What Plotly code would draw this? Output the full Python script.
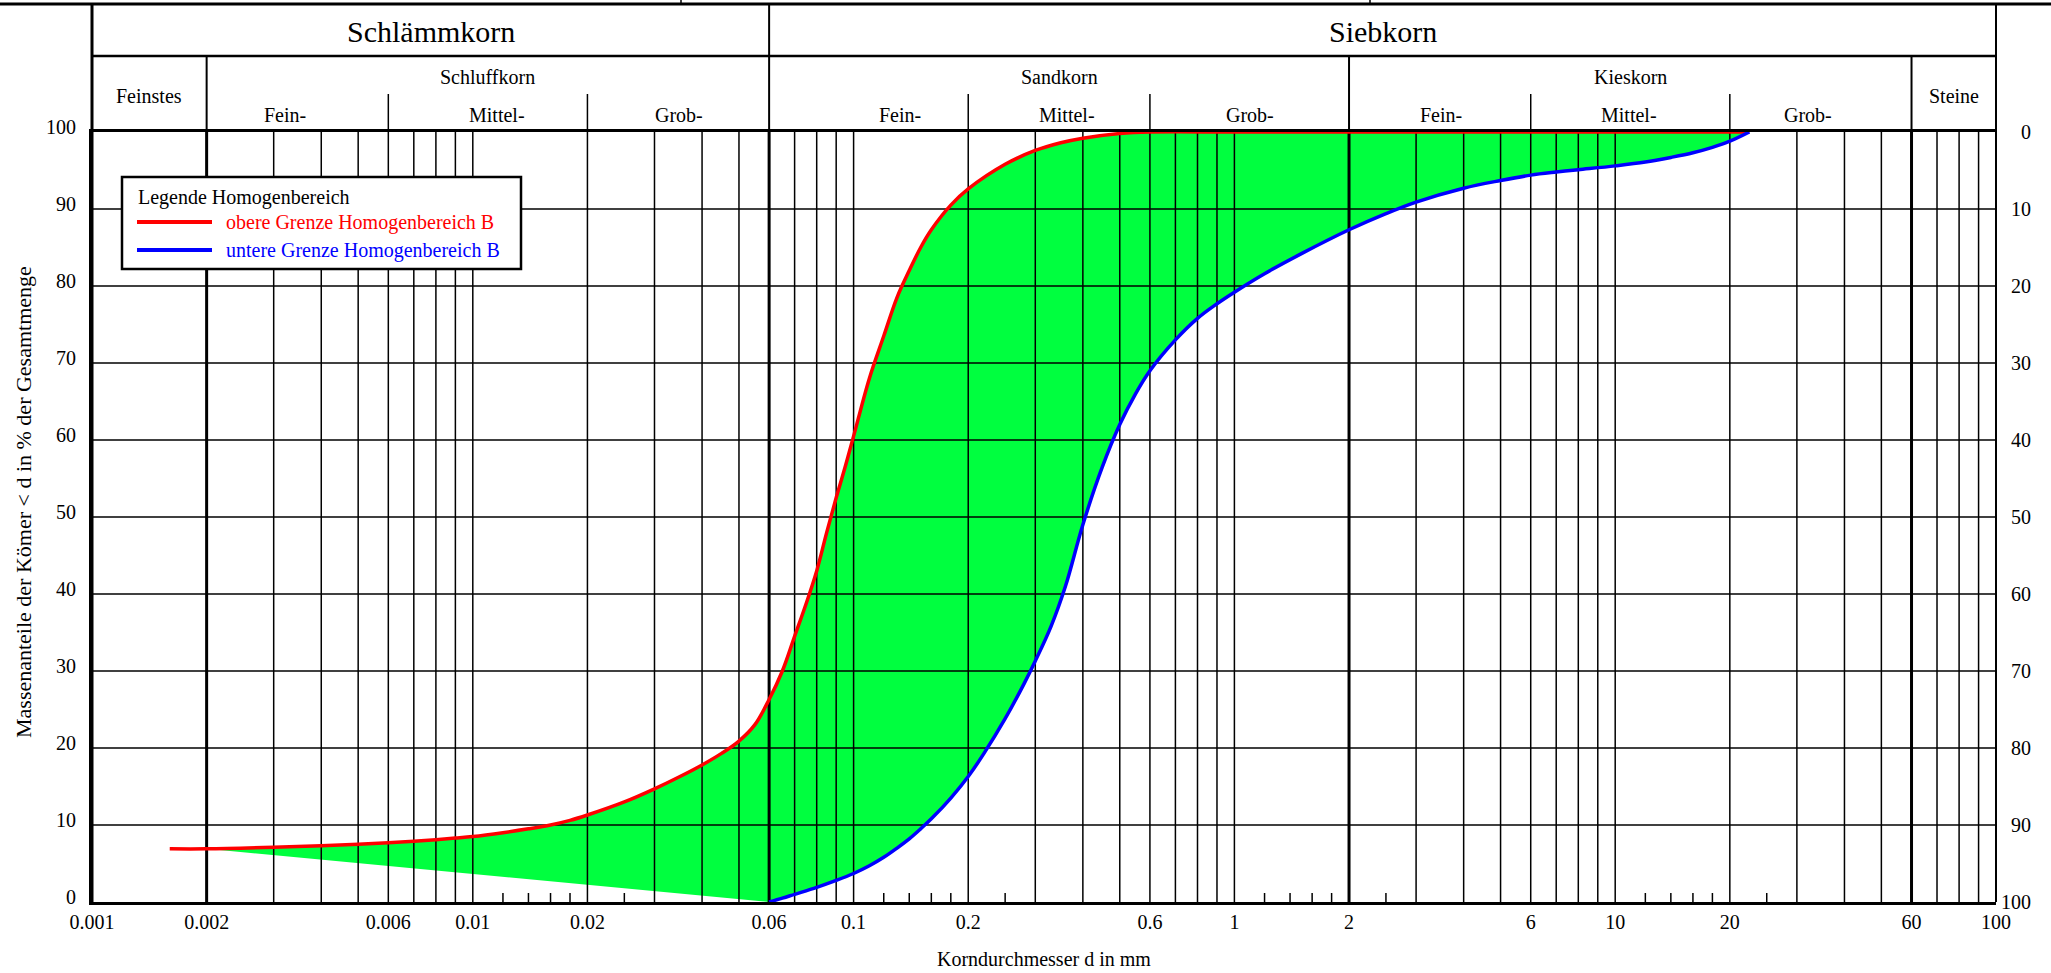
import numpy as np
import plotly.graph_objects as go

# ---------------- data ----------------
RED_X = [0.0016, 0.002, 0.003, 0.004, 0.005, 0.006, 0.007, 0.008, 0.009, 0.01, 0.012, 0.014,
         0.016, 0.018, 0.02, 0.025, 0.03, 0.035, 0.04, 0.045, 0.05, 0.055, 0.06, 0.065, 0.07,
         0.075, 0.08, 0.085, 0.09, 0.095, 0.1, 0.11, 0.12, 0.13, 0.14, 0.15, 0.16, 0.18, 0.2,
         0.25, 0.3, 0.35, 0.4, 0.5, 0.6, 1, 2, 6, 10, 22.5]
RED_Y = [6.9, 6.9, 7.1, 7.3, 7.5, 7.7, 7.9, 8.1, 8.3, 8.5, 9.0, 9.5,
         10.0, 10.6, 11.3, 13.0, 14.7, 16.3, 17.8, 19.3, 20.9, 23.0, 26.3, 30.0, 34.5,
         38.7, 43.0, 48.0, 52.5, 56.5, 60.5, 68.0, 73.5, 78.5, 82.0, 85.0, 87.3, 90.5, 92.6,
         95.8, 97.6, 98.6, 99.2, 99.8, 100, 100, 100, 100, 100, 100]

BLUE_X = [0.06, 0.065, 0.07, 0.08, 0.09, 0.1, 0.11, 0.12, 0.13, 0.14, 0.15, 0.16, 0.18, 0.2,
          0.22, 0.25, 0.28, 0.3, 0.33, 0.36, 0.4, 0.45, 0.5, 0.55, 0.6, 0.7, 0.8, 0.9, 1,
          1.2, 1.5, 2, 2.5, 3, 4, 5, 6, 7, 8, 10, 12, 14, 16, 18, 20, 22.5]
BLUE_Y = [0.0, 0.5, 1.0, 1.9, 2.8, 3.7, 4.7, 5.8, 7.0, 8.2, 9.5, 10.8, 13.5, 16.3,
          19.3, 23.8, 28.3, 31.3, 35.8, 41.0, 49.0, 56.5, 62.0, 66.0, 69.0, 73.0, 75.8, 77.7, 79.2,
          81.6, 84.2, 87.3, 89.4, 90.9, 92.7, 93.7, 94.4, 94.8, 95.1, 95.6, 96.1, 96.7, 97.3,
          98.0, 98.8, 100.0]

X_TICKS = [0.001, 0.002, 0.006, 0.01, 0.02, 0.06, 0.1, 0.2, 0.6, 1, 2, 6, 10, 20, 60, 100]
X_TICK_TEXT = ["0.001", "0.002", "0.006", "0.01", "0.02", "0.06", "0.1", "0.2", "0.6", "1",
               "2", "6", "10", "20", "60", "100"]
X_GRID = [0.003, 0.004, 0.005, 0.006, 0.007, 0.008, 0.009, 0.01, 0.02, 0.03, 0.04, 0.05,
          0.07, 0.08, 0.09, 0.1, 0.2, 0.3, 0.4, 0.5, 0.6, 0.7, 0.8, 0.9, 1,
          3, 4, 5, 6, 7, 8, 9, 10, 20, 30, 40, 50, 70, 80, 90]
X_GRID_BOLD = [0.002, 0.06, 2, 60]
X_SHORT = [0.012, 0.014, 0.016, 0.018, 0.025, 0.12, 0.14, 0.16, 0.18, 0.25,
           1.2, 1.4, 1.6, 1.8, 2.5, 12, 14, 16, 18, 25]
Y_GRID = [10, 20, 30, 40, 50, 60, 70, 80, 90]
Y_TICKS = [0, 10, 20, 30, 40, 50, 60, 70, 80, 90, 100]

# header classification
MAIN_GROUPS = [("Schlämmkorn", 0.001, 0.06), ("Siebkorn", 0.06, 100)]
MID_GROUPS = [("Feinstes", 0.001, 0.002), ("Schluffkorn", 0.002, 0.06), ("Sandkorn", 0.06, 2),
              ("Kieskorn", 2, 60), ("Steine", 60, 100)]
SUB_LABELS = ["Fein-", "Mittel-", "Grob-", "Fein-", "Mittel-", "Grob-", "Fein-", "Mittel-", "Grob-"]
SUB_LABEL_POS = [0.00322, 0.0116, 0.0348, 0.132, 0.364, 1.10, 3.49, 10.9, 32.1]
SUB_DIVIDERS = [0.006, 0.02, 0.2, 0.6, 6, 20]

# ---------------- layout geometry (page pixels) ----------------
W, H = 2051, 973
PL, PR, PT, PB = 92, 1996, 132, 902   # plot box in page pixels
PW, PH = PR - PL, PB - PT
L, T = PL, PT
R, B = W - L - PW, H - T - PH
FONT = "Liberation Serif, Times New Roman, serif"


def px(X):
    return (X - PL) / PW


def py(Y):
    return (PB - Y) / PH


def xp(v):  # data value -> paper x on the log axis
    return (np.log10(v) + 3) / 5


HDR_TOP, HDR_MID, HDR_SUB = 4, 56, 94

fig = go.Figure()

# green band between the limits
lower_x = [0.002] + BLUE_X
lower_y = [RED_Y[RED_X.index(0.002)]] + BLUE_Y
up_x = [x for x in RED_X if x >= 0.002]
up_y = [y for x, y in zip(RED_X, RED_Y) if x >= 0.002]
fig.add_trace(go.Scatter(x=up_x + lower_x[::-1], y=up_y + lower_y[::-1], fill="toself",
                         fillcolor="#00FF3F", line=dict(width=0, shape="linear"), mode="lines",
                         hoverinfo="skip", showlegend=False))


def seg_v(vals, y0, y1):
    xs, ys = [], []
    for v in vals:
        xs += [v, v, None]
        ys += [y0, y1, None]
    return xs, ys


def seg_h(vals, x0, x1):
    xs, ys = [], []
    for v in vals:
        xs += [x0, x1, None]
        ys += [v, v, None]
    return xs, ys


hx, hy = seg_h(Y_GRID, 0.001, 100)
fig.add_trace(go.Scatter(x=hx, y=hy, mode="lines", line=dict(color="black", width=1.5),
                         hoverinfo="skip", showlegend=False))
vx, vy = seg_v(X_GRID, 0, 100)
fig.add_trace(go.Scatter(x=vx, y=vy, mode="lines", line=dict(color="black", width=1.5),
                         hoverinfo="skip", showlegend=False))
bx, by = seg_v(X_GRID_BOLD, 0, 100)
fig.add_trace(go.Scatter(x=bx, y=by, mode="lines", line=dict(color="black", width=3),
                         hoverinfo="skip", showlegend=False))
tick_len = 9 / PH * 100
sx, sy = seg_v(X_SHORT, 0, tick_len)
fig.add_trace(go.Scatter(x=sx, y=sy, mode="lines", line=dict(color="black", width=1.5),
                         hoverinfo="skip", showlegend=False))

fig.add_trace(go.Scatter(x=RED_X, y=RED_Y, mode="lines",
                         line=dict(color="#FF0000", width=3.5, shape="spline", smoothing=1),
                         hoverinfo="skip", showlegend=False))
fig.add_trace(go.Scatter(x=BLUE_X, y=BLUE_Y, mode="lines",
                         line=dict(color="#0000FF", width=3.5, shape="spline", smoothing=1),
                         hoverinfo="skip", showlegend=False))

shapes = []
ann = []
blk = "black"

# outer top line with two small marks above it
shapes.append(dict(type="line", xref="paper", yref="paper", x0=px(0), x1=px(W),
                   y0=py(HDR_TOP), y1=py(HDR_TOP), line=dict(color=blk, width=3)))
for X in (681, 1370):
    shapes.append(dict(type="line", xref="paper", yref="paper", x0=px(X), x1=px(X),
                       y0=py(HDR_TOP), y1=py(0), line=dict(color=blk, width=1.5)))
# header middle line
shapes.append(dict(type="line", xref="paper", yref="paper", x0=0, x1=1, y0=py(HDR_MID),
                   y1=py(HDR_MID), line=dict(color=blk, width=2.5)))
# left and right frame
shapes.append(dict(type="line", xref="paper", yref="paper", x0=0, x1=0, y0=0, y1=py(HDR_TOP),
                   line=dict(color=blk, width=3)))
shapes.append(dict(type="line", xref="paper", yref="paper", x0=1, x1=1, y0=0, y1=py(HDR_TOP),
                   line=dict(color=blk, width=2)))
# main division (Schlämmkorn / Siebkorn)
shapes.append(dict(type="line", xref="paper", yref="paper", x0=xp(0.06), x1=xp(0.06), y0=1,
                   y1=py(HDR_TOP), line=dict(color=blk, width=2)))
# mid divisions
for v in [0.002, 2, 60]:
    shapes.append(dict(type="line", xref="paper", yref="paper", x0=xp(v), x1=xp(v), y0=1,
                       y1=py(HDR_MID), line=dict(color=blk, width=2)))
for v in SUB_DIVIDERS:
    shapes.append(dict(type="line", xref="paper", yref="paper", x0=xp(v), x1=xp(v), y0=1,
                       y1=py(HDR_SUB), line=dict(color=blk, width=1.5)))

for name, a, b in MAIN_GROUPS:
    ann.append(dict(x=(xp(a) + xp(b)) / 2, y=py(32), xref="paper",
                    yref="paper", text=name, showarrow=False,
                    font=dict(size=30, family=FONT, color=blk),
                    xanchor="center", yanchor="middle"))
for name, a, b in MID_GROUPS:
    yy = 96 if name in ("Feinstes", "Steine") else 77
    ann.append(dict(x=(xp(a) + xp(b)) / 2, y=py(yy), xref="paper", yref="paper", text=name,
                    showarrow=False, font=dict(size=20, family=FONT, color=blk),
                    xanchor="center", yanchor="middle"))
for name, pos in zip(SUB_LABELS, SUB_LABEL_POS):
    ann.append(dict(x=xp(pos), y=py(115), xref="paper", yref="paper", text=name,
                    showarrow=False, font=dict(size=20, family=FONT, color=blk),
                    xanchor="center", yanchor="middle"))

# y labels left and right
for v in Y_TICKS:
    ann.append(dict(x=px(78), y=v, xref="paper", yref="y", text=str(v), showarrow=False,
                    font=dict(size=20, family=FONT, color=blk), xanchor="right",
                    yanchor="middle", yshift=5))
    ann.append(dict(x=px(2033), y=100 - v, xref="paper", yref="y", text=str(v), showarrow=False,
                    font=dict(size=20, family=FONT, color=blk), xanchor="right",
                    yanchor="middle"))

# axis titles
ann.append(dict(x=0.5, y=py(959), xref="paper", yref="paper",
                text="Korndurchmesser d in mm", showarrow=False,
                font=dict(size=20, family=FONT, color=blk), xanchor="center", yanchor="middle"))
ann.append(dict(x=px(23), y=py(502), xref="paper", yref="paper",
                text="Massenanteile der Kömer < d in % der Gesamtmenge", textangle=-90,
                showarrow=False, font=dict(size=22, family=FONT, color=blk),
                xanchor="center", yanchor="middle"))

# legend box
shapes.append(dict(type="rect", xref="paper", yref="paper", x0=px(122), x1=px(521),
                   y0=py(269), y1=py(177), fillcolor="white", line=dict(color=blk, width=2.5),
                   layer="above"))
shapes.append(dict(type="line", xref="paper", yref="paper", x0=px(137), x1=px(212),
                   y0=py(222), y1=py(222), line=dict(color="#FF0000", width=4), layer="above"))
shapes.append(dict(type="line", xref="paper", yref="paper", x0=px(137), x1=px(212),
                   y0=py(250), y1=py(250), line=dict(color="#0000FF", width=4), layer="above"))
ann.append(dict(x=px(136), y=py(197), xref="paper", yref="paper", text="Legende Homogenbereich",
                showarrow=False, font=dict(size=20, family=FONT, color=blk), xanchor="left",
                yanchor="middle"))
ann.append(dict(x=px(224), y=py(222), xref="paper", yref="paper",
                text="obere Grenze Homogenbereich B", showarrow=False,
                font=dict(size=20, family=FONT, color="#FF0000"), xanchor="left",
                yanchor="middle"))
ann.append(dict(x=px(224), y=py(250), xref="paper", yref="paper",
                text="untere Grenze Homogenbereich B", showarrow=False,
                font=dict(size=20, family=FONT, color="#0000FF"), xanchor="left",
                yanchor="middle"))

fig.update_layout(
    width=W, height=H, margin=dict(l=L, r=R, t=T, b=B, pad=0),
    paper_bgcolor="white", plot_bgcolor="white",
    font=dict(family=FONT, size=20, color=blk),
    xaxis=dict(type="log", range=[-3, 2], showgrid=False, zeroline=False,
               tickmode="array", tickvals=X_TICKS, ticktext=X_TICK_TEXT, ticks="",
               tickfont=dict(size=20, family=FONT, color=blk),
               showline=True, linecolor=blk, linewidth=3, mirror=True),
    yaxis=dict(range=[0, 100], showgrid=False, zeroline=False, showticklabels=False,
               ticks="", showline=True, linecolor=blk, linewidth=3),
    shapes=shapes, annotations=ann, showlegend=False,
)

fig.write_html("out.html", config={"displayModeBar": False, "staticPlot": True},
               post_script="document.body.style.margin='0';document.body.style.overflow='hidden';")
